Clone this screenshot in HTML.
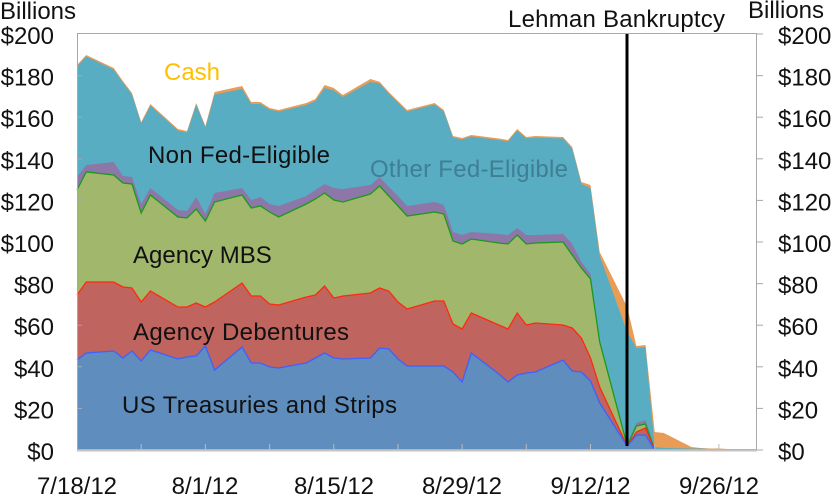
<!DOCTYPE html>
<html><head><meta charset="utf-8"><style>
html,body{margin:0;padding:0;background:#fff;}
svg{display:block;}
text{font-family:"Liberation Sans",Arial,sans-serif;font-size:24px;fill:#111;}
</style></head><body>
<svg width="831" height="497" viewBox="0 0 831 497" xmlns="http://www.w3.org/2000/svg">
<rect x="0" y="0" width="831" height="497" fill="#fff"/>
<!-- Cash -->
<polygon fill="#e99c56" points="77,450 77,65 86.2,55 113.7,68 122.9,81 132,93 141.2,122 150.4,104 177.9,129 187,131 196.2,103 205.4,126 214.6,92 242.1,86 251.2,102 260.4,102 269.6,108 278.7,110 306.3,103 315.4,99 324.6,85 333.8,88 342.9,95 370.4,79 379.6,81.7 388.8,92 398,101 407.1,110 434.6,103 443.8,110 453,136 462.1,138 471.3,135 498.8,138.5 508,140 517.2,129 526.3,137 535.5,136 563,137 572.2,147 581.4,182 590.5,185 599.7,252 627.2,307 636.4,346 645.5,345 654.7,432 663.9,433 691.4,447 700.6,448 709.7,448.5 718.9,448.5 728.1,449 757,449 757,450"/>
<!-- Non Fed-Eligible -->
<polygon fill="#58adc2" points="77,450 77,66.5 86.2,56.5 113.7,69.5 122.9,82.5 132,94.5 141.2,123.5 150.4,105.5 177.9,130.5 187,132.5 196.2,104.5 205.4,127.5 214.6,94.5 242.1,89 251.2,104 260.4,104 269.6,109.5 278.7,111.5 306.3,105 315.4,101 324.6,88 333.8,90.5 342.9,97 370.4,82 379.6,83.5 388.8,93.5 398,102.5 407.1,111.5 434.6,104.5 443.8,111.5 453,137.5 462.1,139.5 471.3,136.5 498.8,140 508,141.5 517.2,130.5 526.3,138.5 535.5,137.5 563,138.5 572.2,148.5 581.4,184 590.5,188 599.7,256 627.2,332 636.4,348 645.5,347 654.7,447 663.9,448 691.4,448.5 700.6,448.5 709.7,449 718.9,449 728.1,449.5 757,449.5 757,450"/>
<!-- Other Fed-Eligible -->
<polygon fill="#8c77a8" points="77,450 77,177 86.2,165 113.7,162 122.9,176 132,177 141.2,204 150.4,188 177.9,210 187,211 196.2,197 205.4,214 214.6,193 242.1,188 251.2,200 260.4,197 269.6,204 278.7,206 306.3,196 315.4,190 324.6,184 333.8,188 342.9,189 370.4,185 379.6,177 388.8,187 398,196 407.1,206 434.6,202 443.8,205 453,232 462.1,235 471.3,232 498.8,234 508,235 517.2,228 526.3,235 535.5,235 563,234 572.2,244 581.4,262 590.5,274 599.7,340 627.2,445 636.4,423 645.5,420 654.7,449.5 663.9,450 757,450"/>
<!-- Agency MBS -->
<polygon fill="#a1b86c" points="77,450 77,190 86.2,172 113.7,175 122.9,183 132,184 141.2,213 150.4,195 177.9,217 187,218 196.2,209 205.4,221 214.6,202 242.1,195 251.2,208 260.4,206 269.6,212 278.7,217 306.3,204 315.4,199 324.6,193 333.8,200 342.9,202 370.4,194 379.6,186 388.8,196 398,206 407.1,216 434.6,212 443.8,214 453,241 462.1,244 471.3,239 498.8,243 508,244 517.2,235 526.3,244 535.5,243 563,242 572.2,255 581.4,268 590.5,279 599.7,342 627.2,445.5 636.4,426 645.5,424 654.7,449.5 663.9,450 757,450"/>
<!-- Agency Debentures -->
<polygon fill="#bf645e" points="77,450 77,295 86.2,282 113.7,282 122.9,287 132,288 141.2,302 150.4,291 177.9,307 187,307 196.2,303 205.4,307 214.6,302 242.1,283 251.2,296 260.4,296 269.6,304 278.7,305 306.3,297 315.4,295 324.6,286 333.8,298 342.9,296 370.4,293 379.6,288 388.8,291 398,302 407.1,309 434.6,301 443.8,301 453,324 462.1,329 471.3,313 498.8,325 508,329 517.2,313 526.3,325 535.5,323 563,325 572.2,328 581.4,338 590.5,358 599.7,387 627.2,446 636.4,432 645.5,428 654.7,450 757,450"/>
<!-- US Treasuries -->
<polygon fill="#5f8dbd" points="77,450 77,360 86.2,353 113.7,351 122.9,358 132,351 141.2,361 150.4,350 177.9,359 187,357 196.2,356 205.4,346 214.6,370 242.1,347 251.2,363 260.4,363 269.6,367 278.7,368 306.3,363 315.4,358 324.6,353 333.8,358 342.9,359 370.4,358 379.6,348 388.8,349 398,359 407.1,366 434.6,366 443.8,366 453,372 462.1,382 471.3,353 498.8,374 508,382 517.2,375 526.3,373 535.5,372 563,360 572.2,371 581.4,372 590.5,381 599.7,403 627.2,446 636.4,435 645.5,435 654.7,450 757,450"/>
<!-- series edge lines -->
<polyline fill="none" stroke="#1a9a1a" stroke-width="1.3" points="77,190 86.2,172 113.7,175 122.9,183 132,184 141.2,213 150.4,195 177.9,217 187,218 196.2,209 205.4,221 214.6,202 242.1,195 251.2,208 260.4,206 269.6,212 278.7,217 306.3,204 315.4,199 324.6,193 333.8,200 342.9,202 370.4,194 379.6,186 388.8,196 398,206 407.1,216 434.6,212 443.8,214 453,241 462.1,244 471.3,239 498.8,243 508,244 517.2,235 526.3,244 535.5,243 563,242 572.2,255 581.4,268 590.5,279 599.7,342 627.2,445.5 636.4,426 645.5,424 654.7,449.5"/>
<polyline fill="none" stroke="#ff2a10" stroke-width="1.3" points="77,295 86.2,282 113.7,282 122.9,287 132,288 141.2,302 150.4,291 177.9,307 187,307 196.2,303 205.4,307 214.6,302 242.1,283 251.2,296 260.4,296 269.6,304 278.7,305 306.3,297 315.4,295 324.6,286 333.8,298 342.9,296 370.4,293 379.6,288 388.8,291 398,302 407.1,309 434.6,301 443.8,301 453,324 462.1,329 471.3,313 498.8,325 508,329 517.2,313 526.3,325 535.5,323 563,325 572.2,328 581.4,338 590.5,358 599.7,387 627.2,446 636.4,432 645.5,428 654.7,450"/>
<polyline fill="none" stroke="#4060ff" stroke-width="1.3" points="77,360 86.2,353 113.7,351 122.9,358 132,351 141.2,361 150.4,350 177.9,359 187,357 196.2,356 205.4,346 214.6,370 242.1,347 251.2,363 260.4,363 269.6,367 278.7,368 306.3,363 315.4,358 324.6,353 333.8,358 342.9,359 370.4,358 379.6,348 388.8,349 398,359 407.1,366 434.6,366 443.8,366 453,372 462.1,382 471.3,353 498.8,374 508,382 517.2,375 526.3,373 535.5,372 563,360 572.2,371 581.4,372 590.5,381 599.7,403 627.2,446 636.4,435 645.5,435 654.7,450"/>
<!-- frame -->
<rect x="77.5" y="33.5" width="679" height="416" fill="none" stroke="#a8a8a8" stroke-width="1"/>
<line x1="77" y1="450.5" x2="757" y2="450.5" stroke="#c4c4c4" stroke-width="2"/>
<g stroke="#a8a8a8" stroke-width="1">
<line x1="77" y1="408.4" x2="82" y2="408.4"/><line x1="77" y1="366.8" x2="82" y2="366.8"/><line x1="77" y1="325.2" x2="82" y2="325.2"/><line x1="77" y1="283.6" x2="82" y2="283.6"/><line x1="77" y1="242" x2="82" y2="242"/><line x1="77" y1="200.4" x2="82" y2="200.4"/><line x1="77" y1="158.8" x2="82" y2="158.8"/><line x1="77" y1="117.2" x2="82" y2="117.2"/><line x1="77" y1="75.6" x2="82" y2="75.6"/>
<line x1="757" y1="450" x2="763" y2="450"/><line x1="757" y1="408.4" x2="763" y2="408.4"/><line x1="757" y1="366.8" x2="763" y2="366.8"/><line x1="757" y1="325.2" x2="763" y2="325.2"/><line x1="757" y1="283.6" x2="763" y2="283.6"/><line x1="757" y1="242" x2="763" y2="242"/><line x1="757" y1="200.4" x2="763" y2="200.4"/><line x1="757" y1="158.8" x2="763" y2="158.8"/><line x1="757" y1="117.2" x2="763" y2="117.2"/><line x1="757" y1="75.6" x2="763" y2="75.6"/><line x1="757" y1="34" x2="763" y2="34"/>
</g>
<g stroke="#bdbdbd" stroke-width="1">
<line x1="141.2" y1="444" x2="141.2" y2="450"/><line x1="205.4" y1="444" x2="205.4" y2="450"/><line x1="269.6" y1="444" x2="269.6" y2="450"/><line x1="333.8" y1="444" x2="333.8" y2="450"/><line x1="398" y1="444" x2="398" y2="450"/><line x1="462.1" y1="444" x2="462.1" y2="450"/><line x1="526.3" y1="444" x2="526.3" y2="450"/><line x1="590.5" y1="444" x2="590.5" y2="450"/><line x1="654.7" y1="444" x2="654.7" y2="450"/><line x1="718.9" y1="444" x2="718.9" y2="450"/>
</g>
<!-- Lehman line -->
<line x1="627" y1="34" x2="627" y2="446" stroke="#000" stroke-width="3"/>
<!-- axis labels -->
<text x="0" y="19">Billions</text>
<text x="748" y="18">Billions</text>
<text x="508" y="27" textLength="217">Lehman Bankruptcy</text>
<g text-anchor="end">
<text x="54" y="44">$200</text><text x="54" y="85.6">$180</text><text x="54" y="127.2">$160</text><text x="54" y="168.8">$140</text><text x="54" y="210.4">$120</text><text x="54" y="252">$100</text><text x="54" y="293.6">$80</text><text x="54" y="335.2">$60</text><text x="54" y="376.8">$40</text><text x="54" y="418.4">$20</text><text x="54" y="460">$0</text>
</g>
<g>
<text x="778" y="44">$200</text><text x="778" y="85.6">$180</text><text x="778" y="127.2">$160</text><text x="778" y="168.8">$140</text><text x="778" y="210.4">$120</text><text x="778" y="252">$100</text><text x="778" y="293.6">$80</text><text x="778" y="335.2">$60</text><text x="778" y="376.8">$40</text><text x="778" y="418.4">$20</text><text x="778" y="460">$0</text>
</g>
<g text-anchor="middle">
<text x="77" y="494">7/18/12</text><text x="205" y="494">8/1/12</text><text x="334" y="494">8/15/12</text><text x="462" y="494">8/29/12</text><text x="590.5" y="494">9/12/12</text><text x="719" y="494">9/26/12</text>
</g>
<!-- series labels -->
<text x="164" y="80" style="fill:#ffc000">Cash</text>
<text x="148" y="163" textLength="182">Non Fed-Eligible</text>
<text x="370" y="177" textLength="198" style="fill:#3e7f93">Other Fed-Eligible</text>
<text x="133" y="263">Agency MBS</text>
<text x="133" y="340" textLength="216">Agency Debentures</text>
<text x="122" y="413" textLength="275">US Treasuries and Strips</text>
</svg>
</body></html>
